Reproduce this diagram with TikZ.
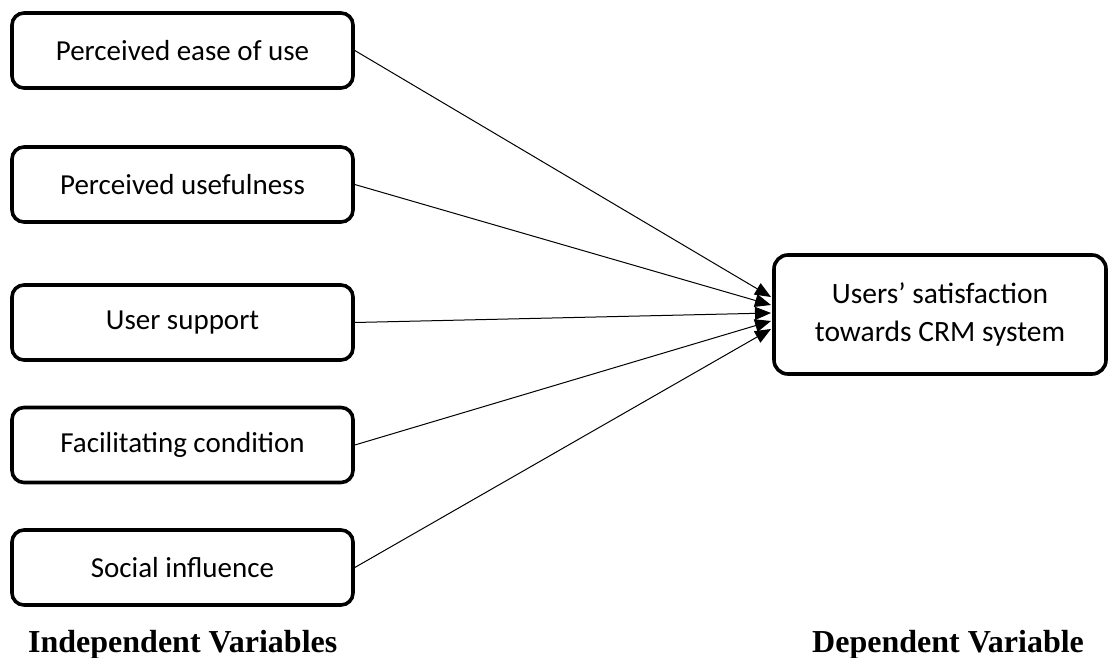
\documentclass[tikz,border=0pt]{standalone}
\usepackage{fontspec}
\setmainfont{Carlito}
\newfontfamily\labelfont{Liberation Serif}
\usetikzlibrary{arrows.meta}
\begin{document}
\begin{tikzpicture}[x=1pt,y=-1pt,
  varbox/.style={draw=black,line width=3.6pt,rounded corners=12pt,fill=white,
    minimum width=341pt,minimum height=75pt,inner sep=0pt,align=center,
    font=\fontsize{29}{38}\selectfont},
  depbox/.style={draw=black,line width=3.6pt,rounded corners=14pt,fill=white,
    minimum width=332pt,minimum height=119pt,inner sep=0pt,align=center,
    font=\fontsize{29.5}{38}\selectfont},
  link/.style={line width=1pt,-{Triangle[length=16pt,width=13pt]}},
  caption/.style={anchor=base west,inner sep=0pt,
    font=\labelfont\bfseries\fontsize{32}{36}\selectfont}]
\useasboundingbox (0,0) rectangle (1111,658);
\node[varbox] (a) at (182.5,50.5) {Perceived ease of use};
\node[varbox] (b) at (182.5,184.5) {Perceived usefulness};
\node[varbox] (c) at (182.5,322.5) {User support};
\node[varbox] (d) at (182.5,445) {Facilitating condition};
\node[varbox] (e) at (182.5,567.5) {Social influence};
\node[depbox] (t) at (940,314.5) {Users’ satisfaction\\towards CRM system};
\coordinate (e1) at (771,297);
\coordinate (e2) at (771,305);
\coordinate (e3) at (771,313);
\coordinate (e4) at (771,321);
\coordinate (e5) at (771,329);
\draw[link] (a.east) -- (e1);
\draw[link] (b.east) -- (e2);
\draw[link] (c.east) -- (e3);
\draw[link] (d.east) -- (e4);
\draw[link] (e.east) -- (e5);
\node[caption] (l1) at (28,652) {Independent Variables};
\node[caption] (l2) at (812,652) {Dependent Variable};
\end{tikzpicture}
\end{document}
